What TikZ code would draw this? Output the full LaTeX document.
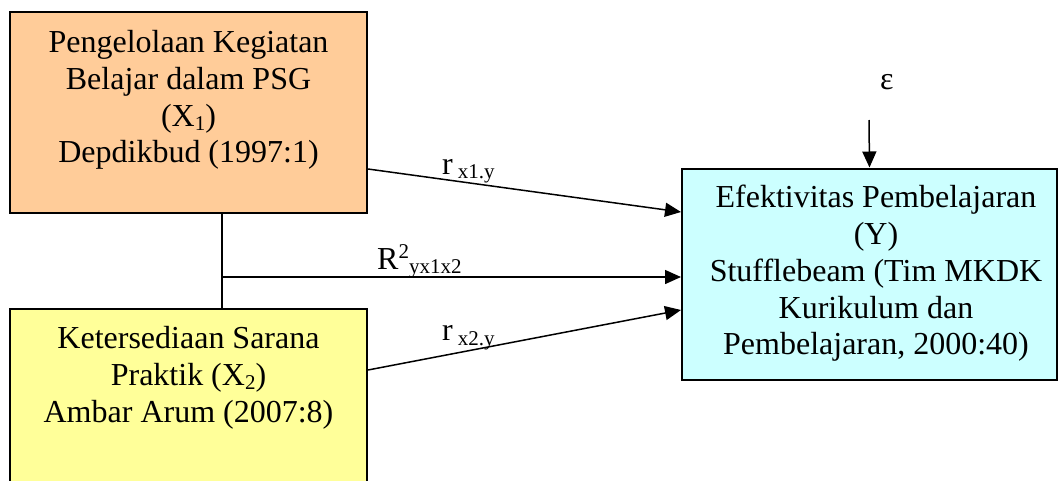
\documentclass[tikz,border=0pt]{standalone}
\usepackage{fontspec}
\setmainfont{Liberation Serif}
\usetikzlibrary{arrows.meta}
\definecolor{boxorange}{HTML}{FFCC99}
\definecolor{boxyellow}{HTML}{FFFF99}
\definecolor{boxcyan}{HTML}{CCFFFF}
\newcommand{\subsz}{\fontsize{21}{21}\selectfont}
\begin{document}
\begin{tikzpicture}[x=1pt,y=-1pt,
  varbox/.style={draw=black,line width=2pt,rectangle,inner sep=0pt},
  boxtext/.style={align=center,inner sep=0pt,anchor=north,font=\fontsize{32}{36.8}\selectfont},
  lbl/.style={inner sep=0pt,anchor=base west,font=\fontsize{32}{36.8}\selectfont},
  conn/.style={line width=1.5pt},
  arr/.style={line width=1.5pt,-{Triangle[length=16pt,width=14pt]}}]
\clip (0,0) rectangle (1058,480);
\fill[white] (0,0) rectangle (1058,480);
% boxes
\node[varbox,fill=boxorange,minimum width=357pt,minimum height=201pt] (x1) at (188.5,112.5) {};
\node[varbox,fill=boxyellow,minimum width=357pt,minimum height=230pt] (x2) at (188.5,424) {};
\node[varbox,fill=boxcyan,minimum width=375pt,minimum height=211pt] (y) at (869.5,274) {};
% texts
\node[boxtext] (x1t) at (188.5,30) {Pengelolaan Kegiatan\\Belajar dalam PSG\\(X\raisebox{-4pt}{\subsz 1})\\Depdikbud (1997:1)};
\node[boxtext] (x2t) at (188.5,326) {Ketersediaan Sarana\\Praktik (X\raisebox{-4pt}{\subsz 2})\\Ambar Arum (2007:8)};
\node[boxtext] (yt) at (876,185) {Efektivitas Pembelajaran\\(Y)\\Stufflebeam (Tim MKDK\\Kurikulum dan\\Pembelajaran, 2000:40)};
% epsilon
\node[lbl] (eps) at (880,89) {ε};
\coordinate (epsarr) at (869,120);
\draw[arr] (epsarr) -- (y.north);
% connectors
\coordinate (j) at (222,277);
\draw[conn] ([xshift=33.5pt]x1.south) -- ([xshift=33.5pt]x2.north);
\draw[arr] (j) -- ([yshift=-3pt]y.west);
\draw[arr] ([yshift=-56.5pt]x1.east) -- ([yshift=62pt]y.west);
\draw[arr] ([yshift=54pt]x2.east) -- ([yshift=-36pt]y.west);
% labels
\node[lbl] (l1) at (442,174) {r\hspace{5pt}\raisebox{-4.5pt}{\subsz x1.y}};
\node[lbl] (l2) at (377,269) {R\raisebox{11pt}{\subsz 2}\raisebox{-4pt}{\subsz yx1x2}};
\node[lbl] (l3) at (442,340) {r\hspace{5pt}\raisebox{-5pt}{\subsz x2.y}};
\end{tikzpicture}
\end{document}
